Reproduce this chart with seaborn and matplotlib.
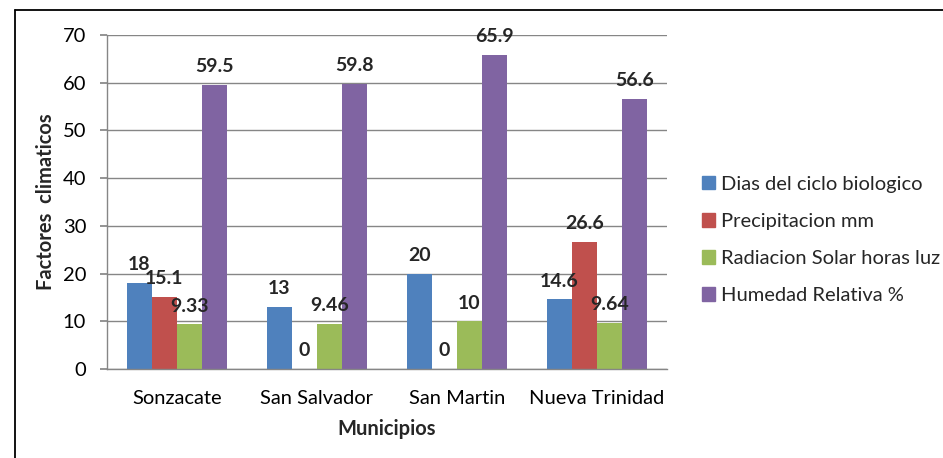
import matplotlib
matplotlib.use("Agg")
import matplotlib.pyplot as plt
import seaborn as sns
import pandas as pd
from matplotlib.lines import Line2D

municipios = ["Sonzacate", "San Salvador", "San Martin", "Nueva Trinidad"]
series = ["Dias del ciclo biologico", "Precipitacion mm",
          "Radiacion Solar horas luz", "Humedad Relativa %"]
dias = [18, 13, 20, 14.6]
precipitacion = [15.1, 0, 0, 26.6]
radiacion = [9.33, 9.46, 10, 9.64]
humedad = [59.5, 59.8, 65.9, 56.6]
labels_txt = [["18", "13", "20", "14.6"],
              ["15.1", "0", "0", "26.6"],
              ["9.33", "9.46", "10", "9.64"],
              ["59.5", "59.8", "65.9", "56.6"]]
colors = ["#4F81BD", "#C0504D", "#9BBB59", "#8064A2"]

rows = []
for s, vals in zip(series, [dias, precipitacion, radiacion, humedad]):
    for m, v in zip(municipios, vals):
        rows.append({"Municipio": m, "Serie": s, "Valor": v})
df = pd.DataFrame(rows)

sns.set_theme(style="white")
plt.rcParams['font.family'] = ['Lato', 'DejaVu Sans']

fig = plt.figure(figsize=(9.43, 4.58), dpi=100)
ax = fig.add_axes([107/943, 1-369/458, (667-107)/943, (369-35)/458])

sns.barplot(data=df, x="Municipio", y="Valor", hue="Serie", order=municipios,
            hue_order=series, palette=colors, width=0.714, ax=ax,
            saturation=1, errorbar=None, legend=False, linewidth=0)

ax.set_ylim(0, 70)
ax.set_xlim(-0.5, 3.5)
ax.set_yticks(range(0, 71, 10))
ax.yaxis.grid(True, color="#868686", linewidth=1.0)
ax.set_axisbelow(True)
for sp in ["top", "right"]:
    ax.spines[sp].set_visible(False)
for sp in ["left", "bottom"]:
    ax.spines[sp].set_color("#868686")
    ax.spines[sp].set_linewidth(1.0)
ax.tick_params(axis="y", left=True, length=5, color="#868686", pad=10, labelsize=14.5)
ax.tick_params(axis="x", bottom=False, pad=9, labelsize=14.5)
for t in ax.get_xticklabels() + ax.get_yticklabels():
    t.set_color("black")

ax.set_xlabel("Municipios", fontsize=14.5, fontweight="bold", labelpad=9)
ax.set_ylabel("Factores  climaticos", fontsize=14.5, fontweight="bold", labelpad=5)

for cont, labs in zip(ax.containers, labels_txt):
    ax.bar_label(cont, labels=labs, padding=7, fontsize=14, fontweight="bold")

handles = [plt.Rectangle((0, 0), 1, 1, color=c) for c in colors]
fig.legend(handles, series, loc="center left", bbox_to_anchor=(702/943, 1-240/458),
           frameon=False, fontsize=14.5, handlelength=0.65, handleheight=0.65,
           handletextpad=0.3, labelspacing=1.0, borderaxespad=0, borderpad=0)

fig.add_artist(Line2D([15/943, 15/943], [0, 1-10/458], transform=fig.transFigure,
                      color="black", linewidth=1.3))
fig.add_artist(Line2D([15/943, 1], [1-10/458, 1-10/458], transform=fig.transFigure,
                      color="black", linewidth=1.3))

fig.savefig("out.png", dpi=100)
